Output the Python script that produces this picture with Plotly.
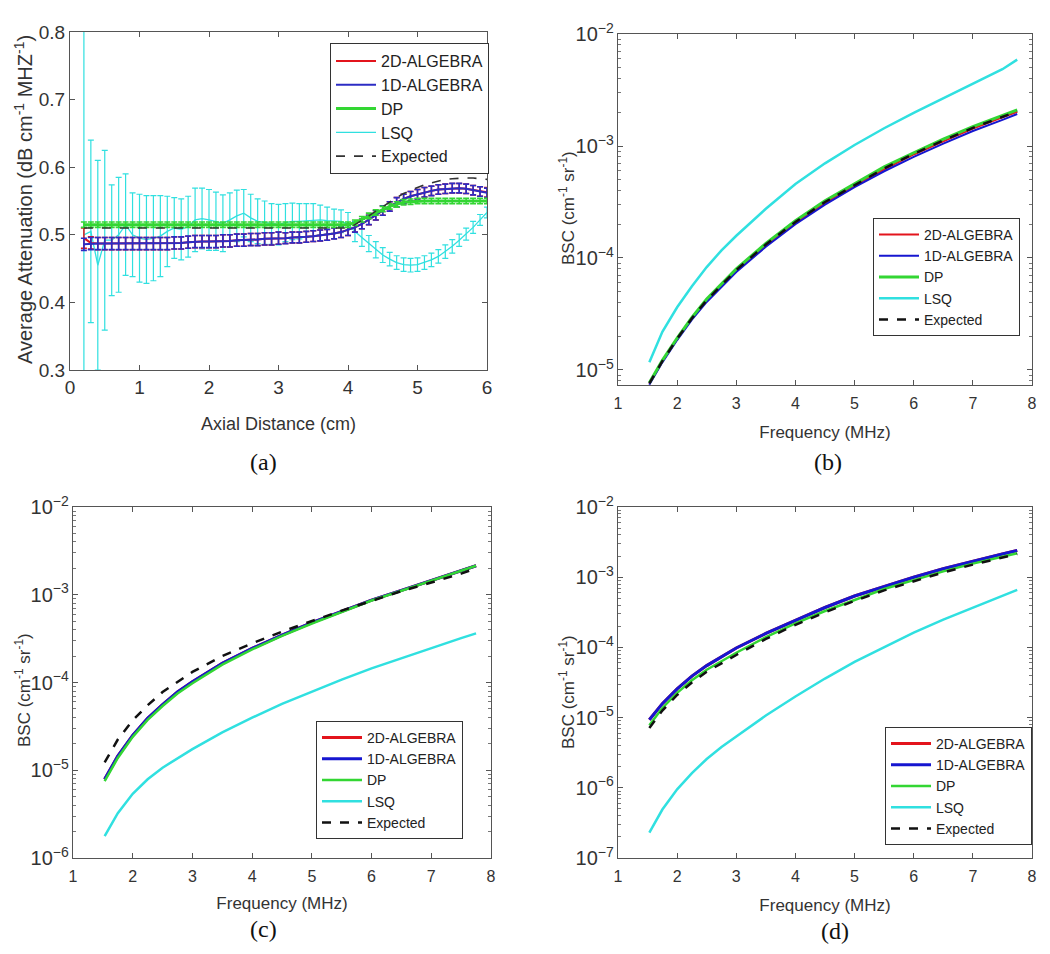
import plotly.graph_objects as go

# ---- panel (a): average attenuation vs axial distance ----
axial_cm = [0.2, 0.3, 0.4, 0.5, 0.6, 0.7, 0.8, 0.9, 1.0, 1.1, 1.2, 1.3, 1.4, 1.5, 1.6,
            1.7, 1.8, 1.9, 2.0, 2.1, 2.2, 2.3, 2.4, 2.5, 2.6, 2.7, 2.8, 2.9, 3.0,
            3.1, 3.2, 3.3, 3.4, 3.5, 3.6, 3.7, 3.8, 3.9, 4.0,
            4.1, 4.2, 4.3, 4.4, 4.5, 4.6, 4.7, 4.8, 4.9, 5.0,
            5.1, 5.2, 5.3, 5.4, 5.5, 5.6, 5.7, 5.8, 5.9, 6.0]

att_1d = [0.486, 0.487, 0.487, 0.487, 0.487, 0.487, 0.487, 0.487, 0.487, 0.487, 0.487, 0.487, 0.487, 0.488, 0.488,
          0.489, 0.490, 0.490, 0.490, 0.490, 0.491, 0.491, 0.492, 0.492, 0.493, 0.493, 0.494, 0.494, 0.495,
          0.495, 0.496, 0.496, 0.497, 0.498, 0.499, 0.500, 0.502, 0.504, 0.507,
          0.511, 0.516, 0.522, 0.529, 0.536, 0.542, 0.548, 0.553, 0.557, 0.560,
          0.563, 0.565, 0.567, 0.568, 0.569, 0.569, 0.568, 0.566, 0.564, 0.562]
err_1d = [0.009] * 29 + [0.008] * 10 + [0.007] * 20

att_2d = [0.495, 0.488, 0.487, 0.487, 0.487, 0.487, 0.487, 0.487, 0.487, 0.487, 0.487, 0.487, 0.487, 0.488, 0.488,
          0.489, 0.490, 0.490, 0.490, 0.490, 0.491, 0.491, 0.492, 0.492, 0.493, 0.493, 0.494, 0.494, 0.495,
          0.495, 0.496, 0.496, 0.497, 0.498, 0.499, 0.500, 0.502, 0.504, 0.507,
          0.511, 0.516, 0.522, 0.529, 0.536, 0.542, 0.548, 0.553, 0.557, 0.560,
          0.563, 0.565, 0.567, 0.568, 0.569, 0.569, 0.568, 0.566, 0.564, 0.563]
err_2d = [0.015] + [0.009] * 28 + [0.008] * 10 + [0.007] * 20

att_dp = [0.515] * 39 + [0.518, 0.523, 0.528, 0.533, 0.538, 0.542, 0.545, 0.548, 0.549, 0.550] + [0.550] * 10
err_dp = [0.004] * 59

att_lsq = [0.500, 0.505, 0.455, 0.492, 0.492, 0.500, 0.515, 0.500, 0.495, 0.493, 0.495, 0.498, 0.505, 0.510, 0.508,
           0.512, 0.522, 0.524, 0.522, 0.520, 0.517, 0.522, 0.528, 0.532, 0.525, 0.520, 0.518, 0.516, 0.515,
           0.518, 0.520, 0.520, 0.521, 0.522, 0.522, 0.521, 0.520, 0.520, 0.516,
           0.505, 0.496, 0.487, 0.478, 0.470, 0.464, 0.459, 0.456, 0.455, 0.456,
           0.459, 0.463, 0.468, 0.475, 0.483, 0.492, 0.501, 0.511, 0.522, 0.533]
err_lsq = [0.450, 0.135, 0.155, 0.133, 0.082, 0.085, 0.075, 0.062, 0.065, 0.065, 0.063, 0.060, 0.052, 0.045, 0.045,
           0.045, 0.047, 0.045, 0.045, 0.043, 0.042, 0.040, 0.038, 0.035, 0.035, 0.033, 0.032, 0.030, 0.030,
           0.028, 0.027, 0.026, 0.025, 0.024, 0.022, 0.020, 0.018, 0.017, 0.017,
           0.015, 0.013, 0.012, 0.012, 0.011, 0.010, 0.010, 0.010, 0.010, 0.010,
           0.010, 0.010, 0.010, 0.010, 0.010, 0.009, 0.009, 0.009, 0.008, 0.008]

att_expected = [0.510] * 39 + [0.515, 0.521, 0.528, 0.535, 0.542, 0.549, 0.555, 0.561, 0.566, 0.570,
                               0.574, 0.577, 0.580, 0.582, 0.583, 0.584, 0.584, 0.584, 0.583, 0.582]

# ---- panels (b), (c), (d): BSC vs frequency ----
freq_mhz = [1.53, 1.75, 2.0, 2.25, 2.5, 2.75, 3.0, 3.5, 4.0, 4.5, 5.0, 5.5, 6.0, 6.5, 7.0, 7.5, 7.75]

bsc_b_2d = [7.5e-6, 1.19e-5, 1.88e-5, 2.87e-5, 4.15e-5, 5.7e-5, 7.7e-5, 1.3e-4, 2.07e-4,
            3.1e-4, 4.45e-4, 6.2e-4, 8.4e-4, 1.1e-3, 1.43e-3, 1.8e-3, 2.02e-3]
bsc_b_1d = [7.4e-6, 1.17e-5, 1.85e-5, 2.82e-5, 4.05e-5, 5.55e-5, 7.5e-5, 1.26e-4, 2.0e-4,
            3.0e-4, 4.3e-4, 5.95e-4, 8.0e-4, 1.05e-3, 1.36e-3, 1.71e-3, 1.93e-3]
bsc_b_dp = [7.7e-6, 1.22e-5, 1.93e-5, 2.95e-5, 4.3e-5, 5.9e-5, 8.0e-5, 1.35e-4, 2.15e-4,
            3.25e-4, 4.6e-4, 6.5e-4, 8.7e-4, 1.15e-3, 1.49e-3, 1.88e-3, 2.1e-3]
bsc_b_lsq = [1.17e-5, 2.19e-5, 3.63e-5, 5.6e-5, 8.3e-5, 1.17e-4, 1.58e-4, 2.75e-4, 4.57e-4,
             7.0e-4, 1.02e-3, 1.44e-3, 1.98e-3, 2.68e-3, 3.6e-3, 4.85e-3, 5.9e-3]
bsc_b_exp = [7.6e-6, 1.2e-5, 1.9e-5, 2.9e-5, 4.2e-5, 5.75e-5, 7.8e-5, 1.32e-4, 2.1e-4,
             3.16e-4, 4.5e-4, 6.3e-4, 8.5e-4, 1.12e-3, 1.45e-3, 1.82e-3, 2.04e-3]

bsc_c_2d = [7.9e-6, 1.45e-5, 2.5e-5, 3.9e-5, 5.6e-5, 7.8e-5, 1.02e-4, 1.66e-4, 2.45e-4,
            3.47e-4, 4.8e-4, 6.5e-4, 8.7e-4, 1.12e-3, 1.45e-3, 1.86e-3, 2.14e-3]
bsc_c_1d = [7.9e-6, 1.45e-5, 2.5e-5, 3.9e-5, 5.6e-5, 7.8e-5, 1.02e-4, 1.66e-4, 2.45e-4,
            3.47e-4, 4.8e-4, 6.5e-4, 8.7e-4, 1.12e-3, 1.45e-3, 1.86e-3, 2.14e-3]
bsc_c_dp = [7.5e-6, 1.38e-5, 2.4e-5, 3.75e-5, 5.4e-5, 7.5e-5, 9.8e-5, 1.6e-4, 2.38e-4,
            3.4e-4, 4.7e-4, 6.4e-4, 8.6e-4, 1.11e-3, 1.44e-3, 1.85e-3, 2.14e-3]
bsc_c_lsq = [1.78e-6, 3.24e-6, 5.4e-6, 7.9e-6, 1.07e-5, 1.38e-5, 1.74e-5, 2.7e-5, 3.98e-5,
             5.7e-5, 7.9e-5, 1.08e-4, 1.45e-4, 1.9e-4, 2.48e-4, 3.2e-4, 3.63e-4]
bsc_c_exp = [1.23e-5, 2.24e-5, 3.7e-5, 5.5e-5, 7.8e-5, 1.02e-4, 1.32e-4, 2.0e-4, 2.8e-4,
             3.8e-4, 5.0e-4, 6.6e-4, 8.5e-4, 1.1e-3, 1.38e-3, 1.74e-3, 2.0e-3]

bsc_d_2d = [9.3e-6, 1.58e-5, 2.57e-5, 3.9e-5, 5.5e-5, 7.4e-5, 9.8e-5, 1.58e-4, 2.45e-4,
            3.7e-4, 5.4e-4, 7.4e-4, 1.0e-3, 1.32e-3, 1.7e-3, 2.14e-3, 2.4e-3]
bsc_d_1d = [9.3e-6, 1.58e-5, 2.57e-5, 3.9e-5, 5.5e-5, 7.4e-5, 9.8e-5, 1.58e-4, 2.45e-4,
            3.7e-4, 5.4e-4, 7.4e-4, 1.0e-3, 1.32e-3, 1.7e-3, 2.14e-3, 2.4e-3]
bsc_d_dp = [7.8e-6, 1.37e-5, 2.25e-5, 3.4e-5, 4.8e-5, 6.4e-5, 8.4e-5, 1.4e-4, 2.2e-4,
            3.3e-4, 4.8e-4, 6.8e-4, 9.1e-4, 1.21e-3, 1.56e-3, 1.96e-3, 2.2e-3]
bsc_d_lsq = [2.3e-7, 4.9e-7, 9.5e-7, 1.62e-6, 2.57e-6, 3.8e-6, 5.4e-6, 1.07e-5, 2.0e-5,
             3.6e-5, 6.2e-5, 1.01e-4, 1.62e-4, 2.48e-4, 3.7e-4, 5.5e-4, 6.6e-4]
bsc_d_exp = [7.1e-6, 1.26e-5, 2.1e-5, 3.16e-5, 4.5e-5, 6.0e-5, 7.8e-5, 1.32e-4, 2.1e-4,
             3.16e-4, 4.6e-4, 6.5e-4, 8.7e-4, 1.17e-3, 1.51e-3, 1.9e-3, 2.14e-3]

names = ["2D-ALGEBRA", "1D-ALGEBRA", "DP", "LSQ", "Expected"]

RED = "#e3141c"
BLUE = "#1616d0"
GREEN = "#33d633"
CYAN = "#30e0e0"
BLACK = "#111111"

fig = go.Figure()

# panel (a) -- LSQ drawn first so the others sit on top, legend order kept via legendrank
a_series = [
    (att_lsq, err_lsq, "LSQ", CYAN, 1.3, 1.2, 4),
    (att_2d, err_2d, "2D-ALGEBRA", RED, 2, 1.5, 1),
    (att_1d, err_1d, "1D-ALGEBRA", "#2c2cc4", 2, 1.6, 2),
    (att_dp, err_dp, "DP", GREEN, 3, 1.6, 3),
]
for vals, errs, name, color, lw, et, rank in a_series:
    fig.add_trace(go.Scatter(
        x=axial_cm, y=vals, mode="lines", name=name,
        line=dict(color=color, width=lw),
        error_y=dict(type="data", array=errs, visible=True, color=color, thickness=et, width=3),
        xaxis="x", yaxis="y", legend="legend", legendrank=rank,
    ))
fig.add_trace(go.Scatter(
    x=axial_cm, y=att_expected, mode="lines", name="Expected",
    line=dict(color="#333333", width=1.6, dash="dash"),
    xaxis="x", yaxis="y", legend="legend", legendrank=5,
))

# panels (b)-(d)
bsc_panels = [
    ("x2", "y2", "legend2", [bsc_b_2d, bsc_b_1d, bsc_b_dp, bsc_b_lsq, bsc_b_exp], [2, 2, 3, 2.5, 2.5]),
    ("x3", "y3", "legend3", [bsc_c_2d, bsc_c_1d, bsc_c_dp, bsc_c_lsq, bsc_c_exp], [3, 3, 2.5, 2.5, 2.5]),
    ("x4", "y4", "legend4", [bsc_d_2d, bsc_d_1d, bsc_d_dp, bsc_d_lsq, bsc_d_exp], [3, 3, 2.5, 2.5, 2.5]),
]
colors = [RED, BLUE, GREEN, CYAN, BLACK]
for xa, ya, lg, series, widths in bsc_panels:
    for vals, name, color, w in zip(series, names, colors, widths):
        fig.add_trace(go.Scatter(
            x=freq_mhz, y=vals, mode="lines", name=name,
            line=dict(color=color, width=w, dash="dash" if name == "Expected" else "solid"),
            xaxis=xa, yaxis=ya, legend=lg,
        ))

# the page body has an 8px margin, so the figure is a bit smaller and offsets are shifted
OFF = 8
W, H = 1042, 946


def px_x(p):
    return (p - OFF) / W


def px_y(p):
    return 1 - (p - OFF) / H


FONT = "Liberation Sans, Arial"
axis_common = dict(
    showline=True, linecolor="#555555", linewidth=1, mirror="ticks",
    ticks="inside", ticklen=5, tickcolor="#555555",
    showgrid=False, zeroline=False, automargin=False,
    tickfont=dict(family=FONT, size=16, color="#333333"),
)
x_title_font = dict(family=FONT, size=17, color="#333333")
a_font = dict(family=FONT, size=19, color="#333333")

legend_common = dict(
    xanchor="left", yanchor="top", bgcolor="white",
    bordercolor="#333333", borderwidth=1,
    font=dict(family=FONT, size=14, color="#222222"),
    itemwidth=40, tracegroupgap=0,
)

log_minor = dict(ticks="inside", ticklen=3, tickcolor="#777777", dtick="D1")

fig.update_layout(
    width=W, height=H,
    margin=dict(l=0, r=0, t=0, b=0),
    paper_bgcolor="white", plot_bgcolor="white",
    xaxis=dict(axis_common, domain=[px_x(70), px_x(487)], range=[0, 6], dtick=1, anchor="y",
               tickfont=a_font,
               title=dict(text="Axial Distance (cm)", standoff=20,
                          font=dict(family=FONT, size=18, color="#333333"))),
    yaxis=dict(axis_common, domain=[px_y(370), px_y(32)], range=[0.3, 0.8], dtick=0.1, tickformat=".1f",
               anchor="x", tickfont=a_font),
    xaxis2=dict(axis_common, domain=[px_x(618), px_x(1032)], range=[1, 8], dtick=1, anchor="y2",
                ticklabelstandoff=4,
                title=dict(text="Frequency (MHz)", standoff=14, font=x_title_font)),
    yaxis2=dict(axis_common, domain=[px_y(385), px_y(34)], type="log", range=[-5.134, -2], dtick=1,
                exponentformat="power", anchor="x2", minor=log_minor),
    xaxis3=dict(axis_common, domain=[px_x(73), px_x(491)], range=[1, 8], dtick=1, anchor="y3",
                ticklabelstandoff=4,
                title=dict(text="Frequency (MHz)", standoff=12, font=x_title_font)),
    yaxis3=dict(axis_common, domain=[px_y(858), px_y(507)], type="log", range=[-6, -2], dtick=1,
                exponentformat="power", anchor="x3", minor=log_minor),
    xaxis4=dict(axis_common, domain=[px_x(618), px_x(1032)], range=[1, 8], dtick=1, anchor="y4",
                ticklabelstandoff=4,
                title=dict(text="Frequency (MHz)", standoff=14, font=x_title_font)),
    yaxis4=dict(axis_common, domain=[px_y(858), px_y(507)], type="log", range=[-7, -2], dtick=1,
                exponentformat="power", anchor="x4", minor=log_minor),
    legend=dict(legend_common, x=px_x(330), y=px_y(43),
                font=dict(family=FONT, size=16, color="#222222")),
    legend2=dict(legend_common, x=px_x(873), y=px_y(218)),
    legend3=dict(legend_common, x=px_x(316), y=px_y(721)),
    legend4=dict(legend_common, x=px_x(885), y=px_y(727)),
)

# rotated y-axis titles, placed where the reference has them
bsc_title = "BSC (cm<sup>-1</sup> sr<sup>-1</sup>)"
y_titles = [
    ("Average Attenuation (dB cm<sup>-1</sup> MHZ<sup>-1</sup>)", 24, 200, 20),
    (bsc_title, 567, 208, 17),
    (bsc_title, 23, 690, 17),
    (bsc_title, 567, 692, 17),
]
for txt, cx, cy, size in y_titles:
    fig.add_annotation(
        text=txt, x=px_x(cx), y=px_y(cy), xref="paper", yref="paper",
        showarrow=False, textangle=-90, xanchor="center", yanchor="middle",
        font=dict(family=FONT, size=size, color="#333333"),
    )

# figure part labels under each panel
captions = [("(a)", 263, 462), ("(b)", 828, 462), ("(c)", 263, 929), ("(d)", 835, 931)]
for txt, cx, cy in captions:
    fig.add_annotation(
        text=txt, x=px_x(cx), y=px_y(cy), xref="paper", yref="paper",
        showarrow=False, xanchor="center", yanchor="middle",
        font=dict(family="Liberation Serif, Times New Roman", size=24, color="#111111"),
    )

fig.write_html("out.html")
